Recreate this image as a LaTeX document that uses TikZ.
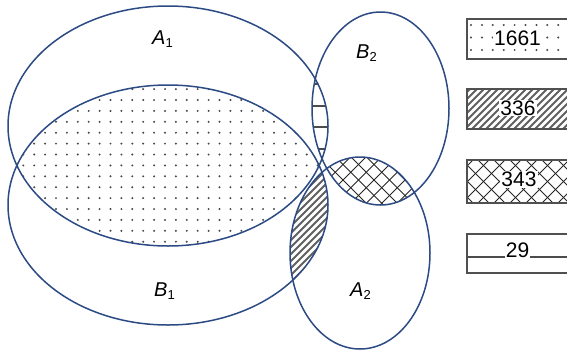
\documentclass[tikz,border=0pt]{standalone}
\usepackage{fontspec}
\setmainfont{Liberation Sans}
\definecolor{ellc}{RGB}{44,74,132}
\definecolor{boxc}{RGB}{80,80,80}
\newcommand\sublab[2]{{\itshape #1}\raisebox{-3pt}{\fontsize{13}{13}\selectfont\upshape #2}}
\begin{document}
\begin{tikzpicture}[x=1pt,y=-1pt,
  ell/.style={draw=ellc, line width=1.5pt},
  lbl/.style={font=\fontsize{20}{24}\selectfont, anchor=base west, inner sep=0pt},
  lgd/.style={font=\fontsize{21}{25}\selectfont, fill=white, inner sep=1pt},
  lgbox/.style={draw=boxc, line width=1.2pt},
  dotc/.style={fill=black!72},
  hatchl/.style={draw=black!62, line width=2pt},
  crossl/.style={draw=black!85, line width=1pt},
  hline/.style={draw=black!70, line width=2pt},
  pA1/.style={insert path={(168,126) ellipse [x radius=160pt, y radius=120pt]}},
  pB1/.style={insert path={(168,205) ellipse [x radius=160pt, y radius=120pt]}},
  pB2/.style={insert path={(380.5,108.5) ellipse [x radius=68.5pt, y radius=96.5pt]}},
  pA2/.style={insert path={(360,253) ellipse [x radius=70pt, y radius=96pt]}}]
\clip (0,0) rectangle (567,351);
\fill[white] (0,0) rectangle (567,351);
% dotted A1 cap B1
\begin{scope}
  \clip[pA1]; \clip[pB1];
  \foreach \i in {0,...,30}{\foreach \j in {0,...,16}{
    \fill[dotc] ({1.5+10.9*\i},{78.2+10.9*\j}) circle[radius=1.1pt];}}
\end{scope}
% horizontal lines A1 cap B2
\begin{scope}
  \clip[pA1]; \clip[pB2];
  \foreach \y in {84,105.5,127,148.5,170} \draw[hline] (300,\y) -- (345,\y);
\end{scope}
% hatch B1 cap A2
\begin{scope}
  \clip[pB1]; \clip[pA2];
  \foreach \i in {0,...,27} \draw[hatchl] ({140+7*\i},300) -- ++(150,-150);
\end{scope}
% crosshatch A2 cap B2
\begin{scope}
  \clip[pA2]; \clip[pB2];
  \foreach \i in {0,...,14}{
    \draw[crossl] ({290+15.5*\i},220) -- ++(-80,-80);
    \draw[crossl] ({290+15.5*\i},140) -- ++(-80,80);}
\end{scope}
% ellipses
\path[ell,pA1];
\path[ell,pB1];
\path[ell,pB2];
\path[ell,pA2];
% labels
\node[lbl] (lA1) at (152,44) {\sublab{A}{1}};
\node[lbl] (lB2) at (356,58.3) {\sublab{B}{2}};
\node[lbl] (lB1) at (154,296.7) {\sublab{B}{1}};
\node[lbl] (lA2) at (350,296.7) {\sublab{A}{2}};
% legend 1: dots
\begin{scope}
  \clip (467,19) rectangle (580,59);
  \foreach \i in {0,...,10}{\foreach \j in {0,...,2}{
    \fill[dotc] ({471+10.9*\i},{25+12.5*\j}) circle[radius=1.1pt];}}
\end{scope}
\draw[lgbox] (467,19) rectangle (580,59);
\node[lgd] (t1661) at (517.5,38.7) {1661};
% legend 2: hatch
\begin{scope}
  \clip (467,89) rectangle (580,129);
  \foreach \i in {0,...,24} \draw[hatchl] ({420+7*\i},132) -- ++(46,-46);
\end{scope}
\draw[lgbox] (467,89) rectangle (580,129);
\node[lgd] (t336) at (518,108) {336};
% legend 3: crosshatch
\begin{scope}
  \clip (467,160) rectangle (580,203);
  \foreach \i in {0,...,12}{
    \draw[crossl] ({460+16*\i},206) -- ++(-50,-50);
    \draw[crossl] ({460+16*\i},157) -- ++(-50,50);}
\end{scope}
\draw[lgbox] (467,160) rectangle (580,203);
\node[lgd] (t343) at (519,179.7) {343};
% legend 4: lines
\draw[lgbox] (467,234) rectangle (580,273);
\draw[draw=boxc, line width=2.5pt] (467,234) -- (580,234);
\draw[hline] (467,257) -- (580,257);
\node[lgd] (t29) at (517.5,250.5) {29};
\end{tikzpicture}
\end{document}
